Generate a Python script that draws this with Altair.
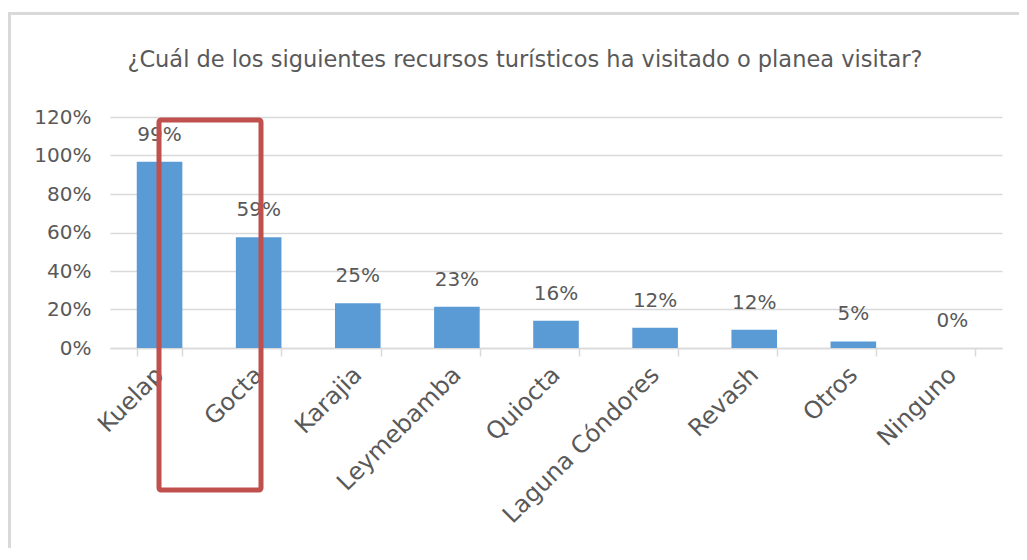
import altair as alt
import pandas as pd

categories = ["Kuelap", "Gocta", "Karajia", "Leymebamba", "Quiocta",
              "Laguna Cóndores", "Revash", "Otros", "Ninguno"]
bar_values = [0.967, 0.575, 0.233, 0.214, 0.141, 0.105, 0.095, 0.034, 0.0]
label_texts = ["99%", "59%", "25%", "23%", "16%", "12%", "12%", "5%", "0%"]
title_text = "¿Cuál de los siguientes recursos turísticos ha visitado o planea visitar?"
y_ticks = [0, 0.2, 0.4, 0.6, 0.8, 1.0, 1.2]

df = pd.DataFrame({"cat": categories, "val": bar_values, "lbl": label_texts})

FONT = "DejaVu Sans"
GRAY = "#595959"
LINE = "#D9D9D9"

x_enc = alt.X("cat:N", sort=categories,
              scale=alt.Scale(paddingInner=0.54, paddingOuter=0.27),
              axis=alt.Axis(title=None, labelAngle=-45, labelAlign="right",
                            labelBaseline="middle", labelPadding=15,
                            labelFontSize=24, labelFont=FONT, labelColor=GRAY,
                            labelLimit=400,
                            tickBand="extent", tickColor=LINE, tickSize=8,
                            tickWidth=1.5, domainColor=LINE, domainWidth=1.5,
                            grid=False, labelOverlap=False))
y_enc = alt.Y("val:Q", scale=alt.Scale(domain=[0, 1.2], nice=False, zero=True),
              axis=alt.Axis(title=None, values=y_ticks, format=".0%",
                            labelFontSize=20, labelFont=FONT, labelColor=GRAY,
                            labelPadding=19, ticks=False, domain=False,
                            labelOverlap=False, tickCount=7,
                            gridColor=LINE, gridWidth=1.5))

base = alt.Chart(df)
bars = base.mark_bar(color="#5B9BD5").encode(x=x_enc, y=y_enc)

labels = base.mark_text(font=FONT, fontSize=20, color=GRAY,
                        baseline="alphabetic", dy=-21).encode(
    x=x_enc, y=y_enc, text="lbl:N")

frame_df = pd.DataFrame({"t": [title_text]})
title_mark = alt.Chart(frame_df).mark_text(font=FONT, fontSize=22.5, color=GRAY,
                                           baseline="alphabetic", align="center").encode(
    x=alt.value(415), y=alt.value(-50), text="t:N")

border = alt.Chart(frame_df).mark_rect(fill=None, stroke="#D9D9D9", strokeWidth=3,
                                       clip=False).encode(
    x=alt.value(-100.5), x2=alt.value(940), y=alt.value(-103.5), y2=alt.value(520))

highlight = alt.Chart(frame_df).mark_rect(fill=None, stroke="#C0504D", strokeWidth=5,
                                          cornerRadius=2, clip=False).encode(
    x=alt.value(49), x2=alt.value(151), y=alt.value(3), y2=alt.value(373))

chart = alt.layer(bars, labels, title_mark, border, highlight).properties(
    width=892, height=231,
    autosize=alt.AutoSizeParams(type="none"),
    padding={"left": 102, "top": 109, "right": 17, "bottom": 200},
).configure(background="white", view=alt.ViewConfig(stroke=None))

chart.save("out.html", embed_options={"renderer": "svg", "actions": False})
